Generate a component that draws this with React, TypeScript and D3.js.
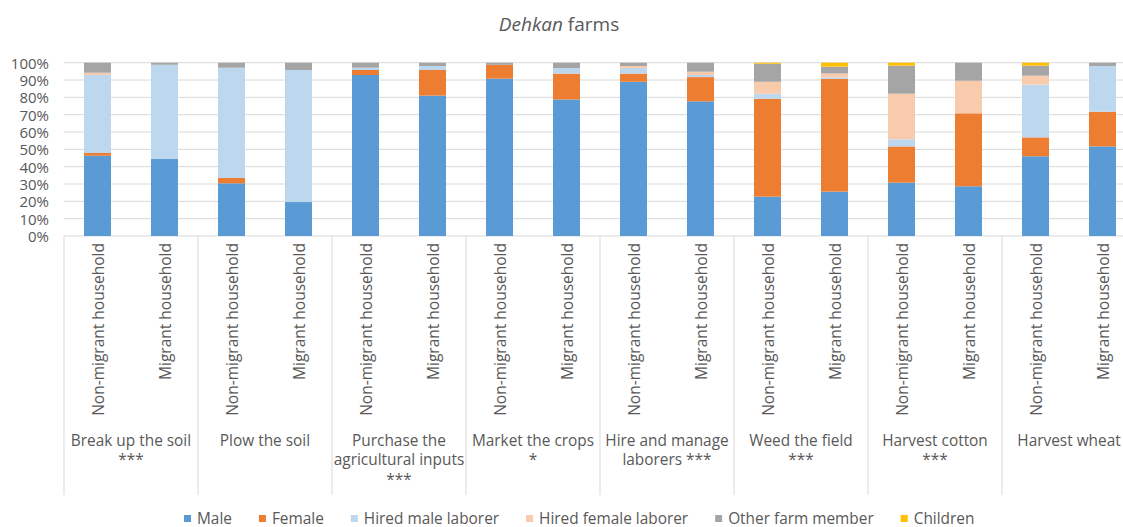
import React from 'react';
import * as d3 from 'd3';

// Activities (outer categories), each split into the two household types
const activities: string[][] = [
  ['Break up the soil', '***'],
  ['Plow the soil'],
  ['Purchase the', 'agricultural inputs', '***'],
  ['Market the crops', '*'],
  ['Hire and manage', 'laborers ***'],
  ['Weed the field', '***'],
  ['Harvest cotton', '***'],
  ['Harvest wheat'],
];
const households = ['Non-migrant household', 'Migrant household'];

const seriesNames = ['Male', 'Female', 'Hired male laborer', 'Hired female laborer', 'Other farm member', 'Children'];
const seriesColors = ['#5B9BD5', '#ED7D31', '#BDD7EE', '#F8CBAD', '#A5A5A5', '#FFC000'];

// % shares, order: activity 1 non-migrant, activity 1 migrant, activity 2 non-migrant, ...
const male = [46.3, 44.6, 30.4, 19.6, 92.9, 81.0, 90.8, 78.8, 89.0, 77.7, 22.7, 25.6, 30.8, 28.7, 46.0, 51.7];
const female = [1.6, 0, 3.1, 0, 2.9, 14.8, 8.0, 14.9, 4.7, 14.0, 56.5, 65.0, 20.9, 42.1, 10.9, 20.0];
const hiredMale = [45.0, 54.2, 63.6, 76.2, 1.3, 2.3, 0, 3.2, 3.2, 1.2, 2.9, 0.9, 4.1, 0, 30.4, 26.4];
const hiredFemale = [1.3, 0, 0, 0, 0, 0, 0, 0, 1.2, 1.9, 6.9, 2.3, 26.3, 18.8, 5.2, 0];
const otherMember = [5.8, 1.2, 2.9, 4.2, 2.9, 1.9, 1.2, 3.1, 1.9, 5.2, 10.4, 3.9, 16.2, 10.4, 5.8, 1.9];
const children = [0, 0, 0, 0, 0, 0, 0, 0, 0, 0, 0.6, 2.3, 1.7, 0, 1.7, 0];

const yTicks = [0, 10, 20, 30, 40, 50, 60, 70, 80, 90, 100];

const W = 1123;
const H = 527;
const FONT = '"Open Sans", sans-serif';
const TEXT = '#595959';
const GRID = '#D9D9D9';

const measure = (() => {
  let ctx: CanvasRenderingContext2D | null = null;
  return (s: string, size: number) => {
    if (!ctx) ctx = document.createElement('canvas').getContext('2d');
    if (!ctx) return s.length * size * 0.5;
    ctx.font = `${size}px "Open Sans"`;
    return ctx.measureText(s).width;
  };
})();

export default function App() {
  const margin = { left: 64, right: 1136, top: 62.7, bottom: 236 };

  const bars = activities.flatMap((_, gi) => households.map((h, hi) => ({ key: `${gi}-${hi}`, gi, hh: h })));
  const rows = bars.map((b, i) => ({
    key: b.key,
    Male: male[i],
    Female: female[i],
    'Hired male laborer': hiredMale[i],
    'Hired female laborer': hiredFemale[i],
    'Other farm member': otherMember[i],
    Children: children[i],
  }));

  const pad = 40 / 67;
  const x = d3.scaleBand<string>()
    .domain(bars.map(b => b.key))
    .range([margin.left, margin.right])
    .paddingInner(pad)
    .paddingOuter(pad / 2);

  const xGroup = d3.scaleBand<number>()
    .domain(activities.map((_, i) => i))
    .range([margin.left, margin.right]);

  const y = d3.scaleLinear().domain([0, 100]).range([margin.bottom, margin.top]);

  const stacked = d3.stack<any>().keys(seriesNames)(rows);

  // legend layout
  const legendSize = 15.4;
  let lx = 184;
  const legendItems = seriesNames.map((name, i) => {
    const item = { name, color: seriesColors[i], x: lx };
    lx += 7 + 6 + measure(name, legendSize) + 27;
    return item;
  });

  return (
    <svg width={W} height={H} style={{ position: 'absolute', left: 0, top: 0, background: '#fff' }} fontFamily={FONT}>
      <text x={559} y={24} textAnchor="middle" dominantBaseline="central" fontSize={19} fill={TEXT}>
        <tspan fontStyle="italic">Dehkan</tspan> farms
      </text>

      {/* gridlines */}
      <g>
        {yTicks.map(t => (
          <line key={t} x1={margin.left} x2={margin.right} y1={y(t)} y2={y(t)} stroke={GRID} strokeWidth={1} />
        ))}
      </g>

      {/* y tick labels */}
      <g>
        {yTicks.map(t => (
          <text key={t} x={49} y={y(t)} textAnchor="end" dominantBaseline="central" fontSize={15} fill={TEXT}>
            {t}%
          </text>
        ))}
      </g>

      {/* stacked bars */}
      <g>
        {stacked.map((layer, si) => (
          <g key={layer.key} fill={seriesColors[si]}>
            {layer.map((d, i) => (
              d[1] - d[0] > 0 ? (
                <rect key={i} x={x(bars[i].key)} width={x.bandwidth()} y={y(d[1])} height={y(d[0]) - y(d[1])} />
              ) : null
            ))}
          </g>
        ))}
      </g>

      {/* category dividers */}
      <g>
        {d3.range(activities.length + 1).map(i => {
          const xv = margin.left + i * xGroup.step();
          return <line key={i} x1={xv} x2={xv} y1={margin.bottom} y2={495} stroke={GRID} strokeWidth={1} />;
        })}
      </g>

      {/* household labels */}
      <g>
        {bars.map(b => {
          const cx = (x(b.key) ?? 0) + x.bandwidth() / 2;
          return (
            <text key={b.key} transform={`translate(${cx},243) rotate(-90)`} textAnchor="end" dominantBaseline="central" fontSize={15.5} fill={TEXT}>
              {b.hh}
            </text>
          );
        })}
      </g>

      {/* activity labels */}
      <g>
        {activities.map((lines, gi) => {
          const cx = (xGroup(gi) ?? 0) + xGroup.bandwidth() / 2;
          return (
            <text key={gi} textAnchor="middle" fontSize={15.4} fill={TEXT}>
              {lines.map((ln, li) => (
                <tspan key={li} x={cx} y={440 + li * 19.5} dominantBaseline="central">{ln}</tspan>
              ))}
            </text>
          );
        })}
      </g>

      {/* legend */}
      <g>
        {legendItems.map(it => (
          <g key={it.name}>
            <rect x={it.x} y={518.5 - 3.5} width={7} height={7} fill={it.color} />
            <text x={it.x + 13} y={518} dominantBaseline="central" fontSize={legendSize} fill={TEXT}>{it.name}</text>
          </g>
        ))}
      </g>
    </svg>
  );
}
